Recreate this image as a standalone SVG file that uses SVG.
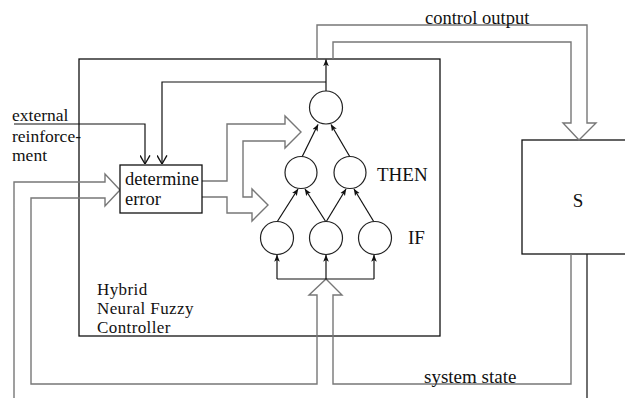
<svg xmlns="http://www.w3.org/2000/svg" width="625" height="398" viewBox="0 0 625 398">
<style>
.t{font-family:"Liberation Serif","Times New Roman",serif;fill:#111;}
.box{fill:#fff;stroke:#111;stroke-width:1.3;}
.nd{fill:#fff;stroke:#222;stroke-width:1.2;}
.ln{fill:none;stroke:#111;stroke-width:1.2;}
.hl{fill:none;stroke:#777;stroke-width:1.4;stroke-linejoin:miter;}
</style>
<defs>
<marker id="a" viewBox="0 0 10 8" refX="9.5" refY="4" markerWidth="7" markerHeight="6" markerUnits="userSpaceOnUse" orient="auto">
<path d="M0,0 L10,4 L0,8 L2.5,4 z" fill="#111"/>
</marker>
<marker id="v" viewBox="0 0 10 12" refX="9.5" refY="6" markerWidth="9" markerHeight="11" markerUnits="userSpaceOnUse" orient="auto">
<path d="M0,0.5 L9.5,6 L0,11.5" fill="none" stroke="#111" stroke-width="1.5"/>
</marker>
</defs>
<rect width="625" height="398" fill="#fff"/>

<g id="controller">
<rect class="box" x="79" y="59" width="361" height="277" fill="none"/>
<text class="t" font-size="17" x="97" y="295" letter-spacing="0.4">Hybrid</text>
<text class="t" font-size="17" x="97" y="314" letter-spacing="0.4">Neural Fuzzy</text>
<text class="t" font-size="17" x="97" y="333" letter-spacing="0.4">Controller</text>
</g>

<g id="plant-S">
<rect class="box" x="522" y="140" width="110" height="114"/>
<text class="t" font-size="19" x="578" y="207" text-anchor="middle">S</text>
</g>

<g id="connectors">
<!-- control output hollow arrow -->
<path class="hl" d="M317,59 V25 H587 V123 H596 L579,140 L563,123 H571 V42 H333 V59"/>
<!-- system state hollow arrow -->
<path class="hl" d="M571,254 V384 H333 V295 H342 L326,279 L309,295 H317 V384 H31 V198 H105 V206 L120,190 L105,174 V182 H14 V398"/>
<path d="M587,254 V398" fill="none" stroke="#222" stroke-width="1.3"/>
<!-- determine error to network hollow arrows -->
<path class="hl" d="M202,181 H227 V124 H285 V116 L301,132 L285,148 V141 H243 V197 H252 V189 L268,205 L252,221 V213 H227 V197 H202" stroke="#555"/>
<!-- external reinforcement -->
<path class="ln" d="M14,124 H145 V164" marker-end="url(#v)"/>
<!-- feedback from output -->
<path class="ln" d="M326,82 H162 V164" marker-end="url(#v)"/>
<path class="ln" d="M326,91 V59.5" marker-end="url(#a)"/>
<!-- IF inputs -->
<path class="ln" d="M277,279 H374"/>
<path class="ln" d="M277,279 V255" marker-end="url(#a)"/>
<path class="ln" d="M326,279 V255" marker-end="url(#a)"/>
<path class="ln" d="M374,279 V255" marker-end="url(#a)"/>
<!-- IF to THEN -->
<path class="ln" d="M277,222 L298,189" marker-end="url(#a)"/>
<path class="ln" d="M326,222 L305,189" marker-end="url(#a)"/>
<path class="ln" d="M326,222 L346,189" marker-end="url(#a)"/>
<path class="ln" d="M374,222 L354,189" marker-end="url(#a)"/>
<!-- THEN to output -->
<path class="ln" d="M302,157 L318,124.5" marker-end="url(#a)"/>
<path class="ln" d="M350,157 L331,124.5" marker-end="url(#a)"/>
</g>

<g id="determine-error">
<rect class="box" x="120" y="165" width="82" height="48"/>
<text class="t" font-size="18.5" x="125" y="185">determine</text>
<text class="t" font-size="18.5" x="125" y="205">error</text>
</g>

<g id="out-node"><circle class="nd" cx="326" cy="107.5" r="16.5"/></g>
<g id="then-1"><circle class="nd" cx="301" cy="172.5" r="16"/></g>
<g id="then-2"><circle class="nd" cx="350" cy="172.5" r="16"/></g>
<g id="if-1"><circle class="nd" cx="277" cy="238" r="16.5"/></g>
<g id="if-2"><circle class="nd" cx="326" cy="238" r="16.5"/></g>
<g id="if-3"><circle class="nd" cx="375" cy="238" r="16.5"/></g>

<g id="labels">
<text class="t" font-size="17.5" x="12" y="121">external</text>
<text class="t" font-size="17.5" x="12" y="142">reinforce-</text>
<text class="t" font-size="17.5" x="12" y="161">ment</text>
<text class="t" font-size="19" x="377" y="181">THEN</text>
<text class="t" font-size="19" x="408" y="244">IF</text>
<text class="t" font-size="18.5" x="425" y="24">control output</text>
<text class="t" font-size="19" x="424" y="383">system state</text>
</g>
</svg>
